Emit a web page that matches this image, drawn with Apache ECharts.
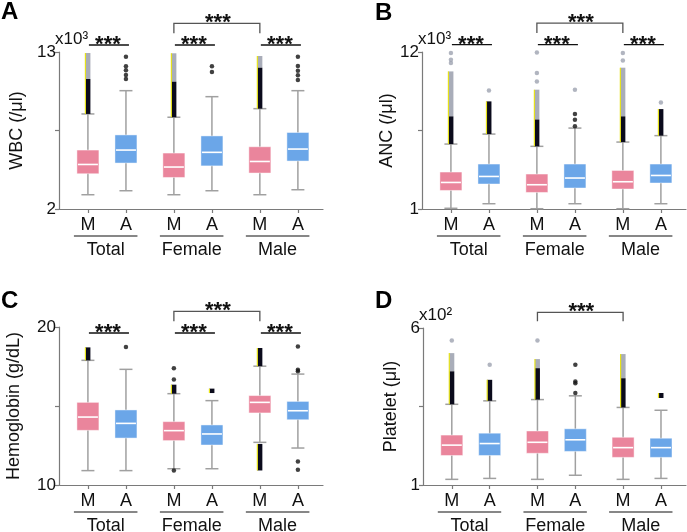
<!DOCTYPE html>
<html>
<head>
<meta charset="utf-8">
<script src="https://cdn.jsdelivr.net/npm/echarts@6/dist/echarts.min.js"></script>
<style>
html, body { margin: 0; padding: 0; background: #fff; }
#chart { width: 687px; height: 532px; }
</style>
</head>
<body>
<div id="chart"></div>
<script>
var groups = ['Total', 'Female', 'Male'];
var boxLabels = ['M', 'A', 'M', 'A', 'M', 'A'];

// box rows: [min, Q1, median, Q3, max]  (order: Total M, Total A, Female M, Female A, Male M, Male A)
var wbcBox = [[3.0, 4.47, 5.12, 6.13, 8.66], [3.28, 5.22, 6.13, 7.19, 10.29], [3.0, 4.21, 4.94, 5.92, 8.43],
              [3.28, 5.02, 5.97, 7.12, 9.87], [3.0, 4.52, 5.33, 6.36, 9.03], [3.35, 5.36, 6.2, 7.36, 10.29]];
var ancBox = [[1.05, 2.30, 2.86, 3.59, 5.55], [1.37, 2.75, 3.28, 4.15, 6.25], [1.02, 2.16, 2.70, 3.45, 5.39],
              [1.37, 2.47, 3.17, 4.15, 6.67], [1.02, 2.40, 2.91, 3.70, 5.69], [1.37, 2.82, 3.35, 4.15, 6.14]];
var hgbBox = [[10.91, 13.46, 14.30, 15.23, 17.89], [10.91, 12.97, 13.90, 14.75, 17.32], [11.03, 12.81, 13.44, 14.01, 15.78],
              [11.03, 12.53, 13.23, 13.80, 15.34], [12.70, 14.56, 15.23, 15.66, 17.52], [12.34, 14.13, 14.70, 15.29, 17.02]];
var pltBox = [[1.18, 1.94, 2.27, 2.59, 3.57], [1.21, 1.94, 2.32, 2.65, 3.68], [1.18, 2.01, 2.36, 2.72, 3.72],
              [1.31, 2.07, 2.44, 2.79, 3.84], [1.18, 1.88, 2.19, 2.52, 3.47], [1.21, 1.88, 2.19, 2.49, 3.38]];

// dense outlier runs: [box index, from, dark part ends, light part ends]
var wbcDense = [[0, 8.66, 11.11, 12.93], [2, 8.43, 10.92, 12.91], [4, 9.03, 11.9, 12.72]];
var ancDense = [[0, 5.55, 7.49, 10.64], [1, 6.25, 8.54, 8.54], [2, 5.39, 7.27, 9.36], [4, 5.69, 7.49, 10.9], [5, 6.14, 8.0, 8.0]];
var hgbDense = [[0, 17.89, 18.71, 18.71], [2, 15.78, 16.35, 16.35], [3, 15.82, 16.10, 16.10],
                [4, 17.52, 18.67, 18.67], [4, 10.92, 12.6, 12.6]];
var pltDense = [[0, 3.57, 4.62, 5.20], [1, 3.68, 4.35, 4.35], [2, 3.72, 4.72, 5.01], [4, 3.47, 4.40, 5.17], [5, 3.77, 3.93, 3.93]];

// single outliers: [box index, value, shade 0 = dark, 1 = grey]
var wbcOut = [[1, 11.11, 0], [1, 11.39, 0], [1, 11.72, 0], [1, 12.0, 0], [1, 12.67, 0],
              [3, 11.6, 0], [3, 12.0, 0],
              [5, 11.04, 0], [5, 11.37, 0], [5, 11.69, 0], [5, 12.02, 0], [5, 12.67, 0]];
var ancOut = [[0, 11.23, 1], [0, 11.46, 1], [0, 11.93, 1], [1, 9.31, 1],
              [2, 9.94, 1], [2, 10.53, 1], [2, 11.97, 1],
              [3, 6.79, 0], [3, 7.26, 0], [3, 7.66, 0], [3, 9.36, 1],
              [4, 11.4, 1], [4, 11.93, 1], [5, 8.47, 1]];
var hgbOut = [[1, 18.74, 0], [2, 16.67, 0], [2, 17.39, 0], [2, 10.91, 0],
              [5, 17.2, 0], [5, 17.3, 0], [5, 18.77, 0], [5, 11.49, 0], [5, 10.97, 0]];
var pltOut = [[0, 5.60, 1], [1, 4.83, 1], [2, 5.60, 1], [3, 3.93, 0], [3, 4.24, 0], [3, 4.30, 0], [3, 4.83, 0]];

// significance: [box a, box b, height on y axis, leg length px]
var wbcSig = [[0, 1, 13.49, 0], [2, 3, 13.49, 0], [4, 5, 13.49, 0], [2, 4, 15.01, 10]];
var ancSig = [[0, 1, 12.51, 0], [2, 3, 12.51, 0], [4, 5, 12.51, 0], [2, 4, 14.03, 10]];
var hgbSig = [[0, 1, 19.62, 0], [2, 3, 19.62, 0], [4, 5, 19.62, 0], [2, 4, 20.99, 10]];
var pltSig = [[2, 4, 6.50, 9]];

var slotX = [1, 2, 3.26, 4.26, 5.52, 6.52];
var FONT = '"Liberation Sans", Arial, Helvetica, sans-serif';
var PINK = '#ea859c';
var BLUE = '#6ba6e8';
var AXIS = '#7a7a7a';
var WHISK = '#a0a0a0';

var panels = [
    {letter: 'A', name: 'WBC (/μl)', min: 2, max: 13, exp: 'x10³', box: wbcBox, dense: wbcDense, out: wbcOut, sig: wbcSig,
     grid: {left: 59, top: 52, width: 264, height: 157}, nameGap: 33, lx: 1, ly: 0},
    {letter: 'B', name: 'ANC (/μl)', min: 1, max: 12, exp: 'x10³', box: ancBox, dense: ancDense, out: ancOut, sig: ancSig,
     grid: {left: 422, top: 52, width: 264, height: 157}, nameGap: 19, lx: 375, ly: 1},
    {letter: 'C', name: 'Hemoglobin (g/dL)', min: 10, max: 20, exp: '', box: hgbBox, dense: hgbDense, out: hgbOut, sig: hgbSig,
     grid: {left: 59, top: 327, width: 264, height: 158}, nameGap: 36, lx: 1, ly: 289},
    {letter: 'D', name: 'Platelet (μl)', min: 1, max: 6, exp: 'x10²', box: pltBox, dense: pltDense, out: pltOut, sig: pltSig,
     grid: {left: 423, top: 328, width: 263, height: 157}, nameGap: 23, lx: 375, ly: 289}
];

function renderBox(params, api) {
    var x = api.value(0);
    var lo = api.coord([x, api.value(1)]);
    var q1 = api.coord([x, api.value(2)]);
    var md = api.coord([x, api.value(3)]);
    var q3 = api.coord([x, api.value(4)]);
    var hi = api.coord([x, api.value(5)]);
    var col = api.value(6) === 0 ? PINK : BLUE;
    var bw = 22, cw = 13;
    var ws = {stroke: WHISK, lineWidth: 1.5};
    return {type: 'group', children: [
        {type: 'line', shape: {x1: lo[0], y1: lo[1], x2: hi[0], y2: hi[1]}, style: ws},
        {type: 'line', shape: {x1: lo[0] - cw / 2, y1: lo[1], x2: lo[0] + cw / 2, y2: lo[1]}, style: ws},
        {type: 'line', shape: {x1: hi[0] - cw / 2, y1: hi[1], x2: hi[0] + cw / 2, y2: hi[1]}, style: ws},
        {type: 'rect', shape: {x: q3[0] - bw / 2, y: q3[1], width: bw, height: q1[1] - q3[1]},
         style: {fill: col, stroke: 'rgba(255,255,255,0.45)', lineWidth: 1}},
        {type: 'line', shape: {x1: md[0] - bw / 2 + 1, y1: md[1], x2: md[0] + bw / 2 - 1, y2: md[1]},
         style: {stroke: '#fff', lineWidth: 1.6}}
    ]};
}

function renderDense(params, api) {
    var x = api.value(0);
    var a = api.coord([x, api.value(1)]);
    var b = api.coord([x, api.value(2)]);
    var c = api.coord([x, api.value(3)]);
    var w = 5;
    var left = a[0] - w / 2;
    var kids = [];
    if (c[1] < b[1]) {
        kids.push({type: 'rect', shape: {x: left, y: c[1], width: w, height: b[1] - c[1]}, style: {fill: '#a9adb9'}});
    }
    kids.push({type: 'rect', shape: {x: left, y: b[1], width: w, height: a[1] - b[1]}, style: {fill: '#0b0b1c'}});
    kids.push({type: 'line', shape: {x1: left, y1: a[1], x2: left, y2: c[1]}, style: {stroke: '#e6e21a', lineWidth: 1.2}});
    return {type: 'group', children: kids};
}

function renderSig(params, api) {
    var a = api.coord([api.value(0), api.value(2)]);
    var b = api.coord([api.value(1), api.value(2)]);
    var leg = api.value(3);
    var kids = [];
    if (leg > 0) {
        kids.push({type: 'polyline', shape: {points: [[a[0], a[1] + leg], [a[0], a[1]], [b[0], b[1]], [b[0], b[1] + leg]]},
                   style: {stroke: '#555', fill: null, lineWidth: 1.3}});
    } else {
        kids.push({type: 'line', shape: {x1: a[0] + 1, y1: a[1], x2: b[0] + 3, y2: b[1]}, style: {stroke: '#111', lineWidth: 1.3}});
    }
    kids.push({type: 'text', x: (a[0] + b[0]) / 2 + 1, y: a[1] + 11,
               style: {text: '***', font: 'bold 22px ' + FONT, fill: '#111', align: 'center', verticalAlign: 'bottom'}});
    return {type: 'group', children: kids};
}

function renderGroup(params, api) {
    var a = api.coord([api.value(0), api.value(2)]);
    var b = api.coord([api.value(1), api.value(2)]);
    var x1 = a[0] - 14, x2 = b[0] + 11.5;
    var y = a[1] + 27;
    return {type: 'group', children: [
        {type: 'line', shape: {x1: x1, y1: y, x2: x2, y2: y}, style: {stroke: '#111', lineWidth: 1.2}},
        {type: 'text', x: (x1 + x2) / 2, y: y + 14,
         style: {text: groups[api.value(3)], font: '18px ' + FONT, fill: '#111', align: 'center', verticalAlign: 'middle'}}
    ]};
}

var grids = [], xAxes = [], yAxes = [], series = [], graphics = [];
panels.forEach(function (p, i) {
    grids.push(p.grid);
    xAxes.push({
        type: 'value', gridIndex: i, min: 0.24, max: 7.18,
        axisLine: {show: true, onZero: false, lineStyle: {color: AXIS, width: 1.2}},
        axisTick: {show: true, customValues: slotX, length: 4, lineStyle: {color: AXIS, width: 1.2}},
        axisLabel: {show: true, customValues: slotX, margin: 7, color: '#111', fontSize: 18, fontFamily: FONT,
                    formatter: function (v) { var k = slotX.indexOf(v); return k >= 0 ? boxLabels[k] : ''; }},
        splitLine: {show: false}
    });
    yAxes.push({
        type: 'value', gridIndex: i, min: p.min, max: p.max,
        name: p.name, nameLocation: 'middle', nameGap: p.nameGap,
        nameTextStyle: {color: '#111', fontSize: 18, fontFamily: FONT},
        axisLine: {show: true, onZero: false, lineStyle: {color: AXIS, width: 1.2}},
        axisTick: {show: true, customValues: [p.min, (p.min + p.max) / 2, p.max], length: 4, lineStyle: {color: AXIS, width: 1.2}},
        axisLabel: {show: true, customValues: [p.min, p.max], margin: 3, color: '#111', fontSize: 17, fontFamily: FONT},
        splitLine: {show: false}
    });

    series.push({
        type: 'custom', xAxisIndex: i, yAxisIndex: i, renderItem: renderBox, clip: false, z: 2,
        data: p.box.map(function (b, k) { return [slotX[k]].concat(b).concat([k % 2]); })
    });
    series.push({
        type: 'custom', xAxisIndex: i, yAxisIndex: i, renderItem: renderDense, clip: false, z: 3,
        data: p.dense.map(function (d) { return [slotX[d[0]], d[1], d[2], d[3]]; })
    });
    series.push({
        type: 'scatter', xAxisIndex: i, yAxisIndex: i, symbolSize: 4.5, z: 4, clip: false,
        data: p.out.map(function (o) {
            return {value: [slotX[o[0]], o[1]], itemStyle: {color: o[2] ? '#9ea3b0' : '#111'}};
        })
    });
    series.push({
        type: 'custom', xAxisIndex: i, yAxisIndex: i, renderItem: renderSig, clip: false, z: 5,
        data: p.sig.map(function (s) { return [slotX[s[0]], slotX[s[1]], s[2], s[3]]; })
    });
    series.push({
        type: 'custom', xAxisIndex: i, yAxisIndex: i, renderItem: renderGroup, clip: false, z: 5,
        data: groups.map(function (g, k) { return [slotX[2 * k], slotX[2 * k + 1], p.min, k]; })
    });

    graphics.push({type: 'text', left: p.lx, top: p.ly,
                   style: {text: p.letter, font: 'bold 24px ' + FONT, fill: '#000'}});
    if (p.exp) {
        graphics.push({type: 'text', left: p.grid.left - 4, top: p.grid.top - 21,
                       style: {text: p.exp, font: '17px ' + FONT, fill: '#111'}});
    }
});

var chart = echarts.init(document.getElementById('chart'));
chart.setOption({
    animation: false,
    backgroundColor: '#fff',
    grid: grids,
    xAxis: xAxes,
    yAxis: yAxes,
    series: series,
    graphic: graphics
});
</script>
</body>
</html>
